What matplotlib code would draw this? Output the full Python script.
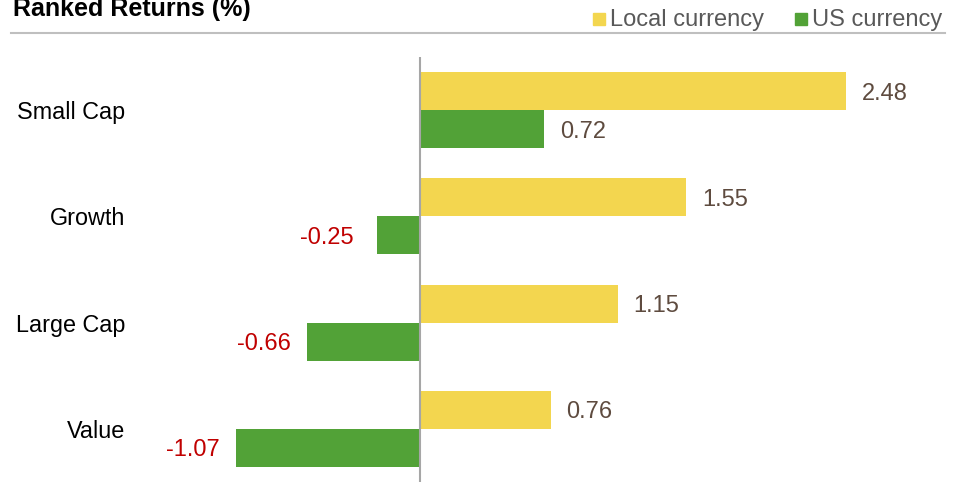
import matplotlib.pyplot as plt
from matplotlib.patches import Rectangle
from matplotlib.lines import Line2D

plt.rcParams['font.family'] = ['Liberation Sans', 'DejaVu Sans']

categories = ['Small Cap', 'Growth', 'Large Cap', 'Value']
local_currency = [2.48, 1.55, 1.15, 0.76]
us_currency = [0.72, -0.25, -0.66, -1.07]

yellow = '#F3D64F'
green = '#52A237'
pos_color = '#5E4B3F'
neg_color = '#C00000'

W, H = 964, 482
fig = plt.figure(figsize=(W / 100, H / 100), dpi=100)

# axes covers full width; vertical span from the zero line top to the bottom
top_px, bot_px = 57, 482
ax = fig.add_axes([0, 0, 1, (bot_px - top_px) / H])
ax.set_axis_off()

px_per_unit = 171.8
zero_px = 420
ax.set_xlim(-zero_px / px_per_unit, (W - zero_px) / px_per_unit)

group_px = 106.3
ax.set_ylim(3 + (bot_px - 429) / group_px, -(110 - top_px) / group_px)

bar_h = 38 / group_px
ys = list(range(len(categories)))

ax.barh([y - bar_h / 2 for y in ys], local_currency, height=bar_h, color=yellow, zorder=2)
ax.barh([y + bar_h / 2 for y in ys], us_currency, height=bar_h, color=green, zorder=2)

ax.axvline(0, color='#A6A6A6', lw=1.5, zorder=3)

gap = 16 / px_per_unit
for y, v in zip(ys, local_currency):
    ax.text(v + gap, y - bar_h / 2, f'{v:.2f}', ha='left', va='center_baseline',
            fontsize=17, color=pos_color)
for y, v in zip(ys, us_currency):
    if v >= 0:
        ax.text(v + gap, y + bar_h / 2, f'{v:.2f}', ha='left', va='center_baseline',
                fontsize=17, color=pos_color)
    else:
        # the smallest negative label sits a bit further out in the reference
        g = gap + (7 / px_per_unit if v > -0.5 else 0)
        ax.text(v - g, y + bar_h / 2, f'{v:.2f}', ha='right', va='center_baseline',
                fontsize=17, color=neg_color)

for y, c in zip(ys, categories):
    ax.text(125 / W, y, c, transform=ax.get_yaxis_transform(), ha='right',
            va='center_baseline', fontsize=16.8, color='black')

# header: title, rule, legend
fig.text(13 / W, 1 - 16 / H, 'Ranked Returns (%)', fontsize=18,
         fontweight='bold', ha='left', va='baseline')
fig.add_artist(Line2D([11 / W, 945 / W], [1 - 33 / H, 1 - 33 / H],
                      color='#BFBFBF', lw=1.5))

legend_items = [('Local currency', yellow, 593), ('US currency', green, 795)]
for label, col, x in legend_items:
    fig.add_artist(Rectangle((x / W, 1 - 25 / H), 12 / W, 12 / H,
                             color=col, transform=fig.transFigure))
    fig.text((x + 17) / W, 1 - 26 / H, label, fontsize=17, color='#595959',
             ha='left', va='baseline')

fig.savefig('out.png', dpi=100)
